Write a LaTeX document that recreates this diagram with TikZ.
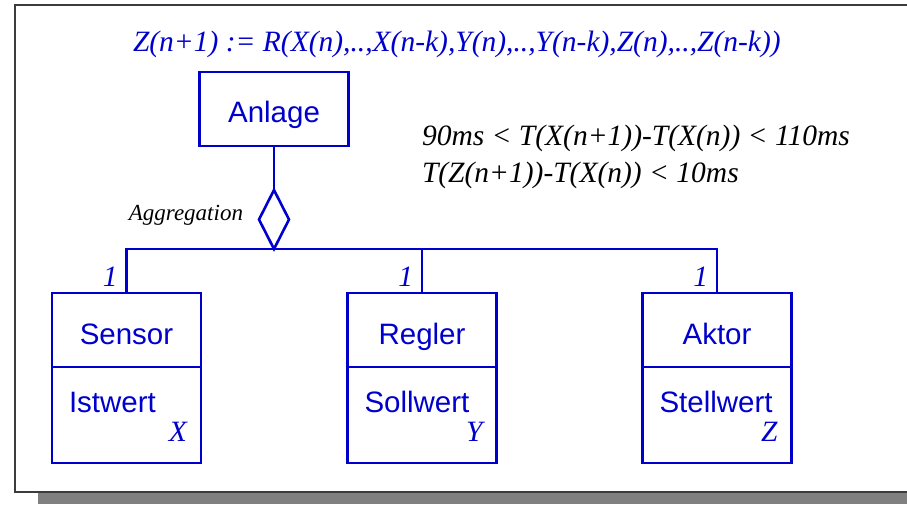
\documentclass[tikz,border=0pt]{standalone}
\usepackage{fontspec}
\setmainfont{Liberation Serif}
\setsansfont{Liberation Sans}
\usepackage{xcolor}
\usepackage{tikz}
\usetikzlibrary{shapes.geometric,calc}

\definecolor{umlblau}{RGB}{0,0,204}
\definecolor{rahmengrau}{RGB}{60,60,60}
\definecolor{schatten}{RGB}{128,128,128}

\newcommand{\grossschrift}{\fontsize{29.5pt}{35pt}\selectfont}

\tikzset{
    uml/.style={draw=umlblau, line width=2.6pt},
    klasse/.style={uml, rectangle, inner sep=0pt, outer sep=0pt, minimum width=149pt},
    beschriftung/.style={inner sep=0pt, outer sep=0pt},
    kursivblau/.style={beschriftung, text=umlblau, font=\grossschrift\itshape},
}

\begin{document}
\begin{tikzpicture}[x=1pt, y=-1pt, font=\grossschrift]

    \useasboundingbox (0,0) rectangle (907,504);

    % Rahmen mit Schatten (rechts offen, laeuft aus dem Bild)
    \fill[white] (0,0) rectangle (907,504);
    \fill[schatten] (38,493) rectangle (907,504);
    \draw[rahmengrau, line width=1.5pt] (907,5) -- (15,5) -- (15,492) -- (907,492);

    % Formel oben
    \node[kursivblau, anchor=base west] (formel) at (133,51)
        {Z(n+1) := R(X(n),..,X(n-k),Y(n),..,Y(n-k),Z(n),..,Z(n-k))};

    % Zeitbedingungen
    \node[beschriftung, anchor=base west, font=\grossschrift\itshape] (zeit1) at (422,145)
        {90ms < T(X(n+1))-T(X(n)) < 110ms};
    \node[beschriftung, anchor=base west, font=\grossschrift\itshape] (zeit2) at (422,182)
        {T(Z(n+1))-T(X(n)) < 10ms};

    % Anlage und Aggregation
    \node[klasse, minimum height=74pt] (anlage) at (274,109) {};
    \node[beschriftung, anchor=base, text=umlblau, font=\grossschrift\sffamily] (anlagetext) at (274,122.5) {Anlage};
    \node[uml, diamond, fill=white, inner sep=0pt, outer sep=0pt, minimum width=30pt, minimum height=59pt] (raute) at (274,219.5) {};
    \draw[uml] (anlage) -- (raute);
    \node[beschriftung, anchor=base east, font=\fontsize{23pt}{27pt}\selectfont\itshape] (aggr) at (243,220) {Aggregation};

    % Klassen mit Attribut
    \foreach \name/\x/\titel/\attr/\var in {sensor/126.5/Sensor/Istwert/X, regler/422/Regler/Sollwert/Y, aktor/717/Aktor/Stellwert/Z} {
        \node[klasse, minimum height=74pt] (\name) at (\x,330) {};
        \node[klasse, minimum height=96pt, anchor=north] (\name-attr) at (\name.south) {};
        \node[beschriftung, anchor=base, text=umlblau, font=\grossschrift\sffamily] (\name-titel) at (\x,344) {\titel};
        \node[beschriftung, anchor=base west, text=umlblau, font=\grossschrift\sffamily] (\name-wert) at (\x-57.5,412) {\attr};
        \node[kursivblau, anchor=base east] (\name-var) at (\x+60.5,441) {\var};
        \node[kursivblau, anchor=base east] (\name-mult) at (\x-9,286) {1};
    }

    % Verbindungen
    \draw[uml] (sensor.north) |- (raute.south) -| (aktor.north);
    \draw[uml] (regler.north) -- (regler.north |- raute.south);

\end{tikzpicture}
\end{document}
